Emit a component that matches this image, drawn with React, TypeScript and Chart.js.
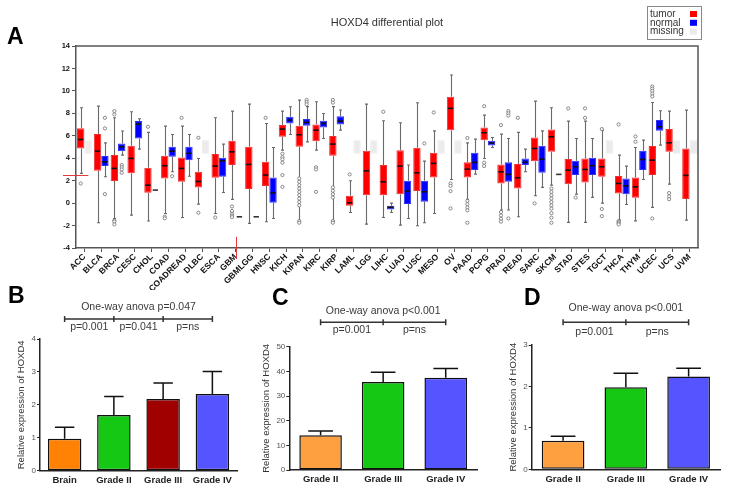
import React, { useEffect, useRef } from 'react';
import { Chart, registerables } from 'chart.js';

Chart.register(...registerables);

const SANS = "'Liberation Sans', Arial, Helvetica, sans-serif";

// ---------------- Panel A data ----------------
const categories = ['ACC','BLCA','BRCA','CESC','CHOL','COAD','COADREAD','DLBC','ESCA','GBM','GBMLGG','HNSC','KICH','KIPAN','KIRC','KIRP','LAML','LGG','LIHC','LUAD','LUSC','MESO','OV','PAAD','PCPG','PRAD','READ','SARC','SKCM','STAD','STES','TGCT','THCA','THYM','UCEC','UCS','UVM'];

// [min, q1, median, q3, max]
const tumorStats: number[][] = [
  [2.65, 4.87, 5.67, 6.66, 8.5],
  [-1.75, 2.88, 4.63, 6.15, 8.64],
  [-1.37, 1.96, 3.09, 4.28, 7.6],
  [-1.07, 2.65, 3.98, 5.11, 8.14],
  [-1.6, 0.92, 1.6, 3.15, 6.3],
  [-0.92, 2.2, 3.33, 4.22, 6.86],
  [-1.28, 1.9, 3.09, 4.07, 6.86],
  [-0.09, 1.4, 1.93, 2.79, 3.98],
  [-0.92, 2.26, 3.3, 4.37, 7.6],
  [0.33, 3.39, 4.57, 5.55, 8.2],
  [-1.81, 1.25, 3.45, 5.02, 8.82],
  [-1.66, 1.52, 2.5, 3.68, 7.1],
  [4.72, 5.91, 6.6, 6.95, 8.2],
  [-1.6, 5.02, 6.09, 6.89, 9.18],
  [4.72, 5.52, 6.5, 7.01, 9.03],
  [-1.6, 4.22, 5.26, 5.97, 8.6],
  [-0.83, -0.24, 0.03, 0.65, 1.99],
  [-1.87, 0.71, 2.88, 4.66, 8.82],
  [-1.28, 0.71, 1.9, 3.39, 7.34],
  [-1.96, 0.8, 3.3, 4.72, 7.16],
  [-2.02, 1.07, 2.7, 4.93, 8.94],
  [-0.92, 2.29, 3.54, 4.48, 6.44],
  [2.11, 6.5, 8.44, 9.47, 11.41],
  [0.33, 2.29, 3.03, 3.63, 5.37],
  [3.98, 5.61, 6.27, 6.74, 7.84],
  [-0.62, 1.75, 2.79, 3.45, 6.15],
  [-1.22, 1.31, 2.26, 3.48, 6.3],
  [0.65, 3.74, 4.87, 5.85, 9.09],
  [1.6, 4.57, 5.91, 6.57, 8.5],
  [-1.72, 1.69, 2.94, 3.92, 7.31],
  [-1.72, 1.84, 3.0, 3.98, 7.31],
  [0.0, 2.35, 3.24, 3.98, 6.5],
  [-1.52, 0.86, 1.75, 2.41, 4.28],
  [-1.58, 0.47, 1.45, 2.29, 4.96],
  [-0.38, 2.5, 3.83, 5.08, 8.97],
  [1.69, 4.57, 5.37, 6.6, 8.2],
  [-1.52, 0.36, 2.47, 4.87, 8.29],
];

const tumorOutliers: number[][] = [
  [1.75], [], [7.9, 8.2, -1.55, -1.65, -1.9], [], [6.8], [-1.2, -1.35], [7.6], [5.82, -0.86], [-1.28],
  [-0.3, -0.7, -0.95, -1.1, -1.25], [], [7.6], [4.4, 4.1, 3.9, 3.6, 2.5, 1.45],
  [2.2, 1.9, 1.6, 1.3, 1.0, 0.7, 0.4, 0.1, -0.2, -1.6, -1.75], [3.2, 3.0, 1.0],
  [9.2, 8.95, 1.4, 1.1, 0.8, 0.5, -1.6, -1.75], [2.56], [], [8.14], [], [], [8.08],
  [1.75, 1.54, 1.07, -0.47], [5.8, 0.2, -0.1, -0.4, -0.65, -1.75], [8.64, 3.6, 3.3],
  [6.95, -0.8, -1.1, -1.4, -1.65], [7.6], [-0.03], [1.3, 1.0, 0.7, 0.4, 0.1, -0.2, -0.5, -0.9, -1.3, -1.75],
  [8.44], [8.44, 7.6], [6.6, -0.53, -1.16], [7.01, -1.6, -1.7, -1.8, -1.9], [5.94, 5.47],
  [10.4, 10.2, 10.0, 9.75, 9.5, -1.37], [0.9, 0.6, 0.35], [],
];

// null = missing normal samples
const normalStats: (number[] | null)[] = [
  null,
  [2.35, 3.3, 3.68, 4.19, 5.37],
  [4.28, 4.63, 5.02, 5.32, 6.42],
  [4.81, 5.76, 7.04, 7.31, 7.52],
  [1.16, 1.16, 1.16, 1.16, 1.16],
  [2.79, 4.13, 4.63, 5.02, 6.12],
  [2.4, 3.83, 4.43, 5.02, 6.12],
  null,
  [0.95, 2.35, 3.77, 4.04, 5.26],
  [-1.22, -1.22, -1.22, -1.22, -1.22],
  [-1.22, -1.22, -1.22, -1.22, -1.22],
  [-1.37, 0.03, 0.92, 2.29, 4.96],
  [6.12, 7.1, 7.4, 7.69, 8.58],
  [5.46, 6.89, 7.19, 7.49, 8.6],
  [5.76, 6.74, 7.1, 7.34, 7.99],
  [6.5, 7.01, 7.31, 7.75, 8.3],
  null,
  null,
  [-0.83, -0.56, -0.38, -0.24, 0.0],
  [-1.37, -0.09, 1.07, 1.99, 3.39],
  [-1.75, 0.12, 1.01, 1.99, 3.74],
  null,
  null,
  [2.58, 2.94, 3.63, 4.48, 5.7],
  [4.96, 5.14, 5.35, 5.55, 5.85],
  [-0.62, 1.9, 2.56, 3.63, 5.76],
  [2.79, 3.39, 3.65, 3.98, 4.81],
  [1.4, 2.7, 3.92, 5.11, 6.44],
  [2.56, 2.56, 2.56, 2.56, 2.56],
  [0.8, 2.5, 3.24, 3.77, 5.76],
  [0.51, 2.5, 3.33, 4.04, 5.76],
  null,
  [-0.12, 0.8, 1.54, 2.2, 3.3],
  [2.11, 2.94, 3.89, 4.66, 5.61],
  [5.17, 6.44, 6.8, 7.4, 8.23],
  null,
  null,
];

const normalOutliers: number[][] = [
  [], [0.8, 6.66, 7.6], [3.4, 3.2, 3.0, 2.7], [], [], [2.4], [], [], [], [], [], [], [],
  [9.2, 9.0, 8.8], [], [], [], [], [], [], [5.32], [], [], [], [], [8.2, 8.0, 7.8, -1.37],
  [], [], [], [0.5], [], [], [], [], [], [], [],
];

const missingRange = [4.4, 5.6];
const yTicksA = { min: -4, max: 14, step: 2 };
const redMarkValue = 2.5;
const redMarkCategory = 'GBM';

// ---------------- Panels B, C, D data ----------------
const bLabels = ['Brain', 'Grade II', 'Grade III', 'Grade IV'];
const bMeans = [0.97, 1.69, 2.18, 2.33];
const bErrors = [0.35, 0.56, 0.48, 0.68];
const bColors = ['#ff8205', '#14c814', '#a00000', '#5555ff'];
const bPValues = ['p=0.001', 'p=0.041', 'p=ns'];

const cLabels = ['Grade II', 'Grade III', 'Grade IV'];
const cMeans = [14.1, 35.7, 37.4];
const cErrors = [1.7, 3.9, 3.8];
const cColors = ['#ffa040', '#14c814', '#5555ff'];
const cPValues = ['p=0.001', 'p=ns'];

const dLabels = ['Grade II', 'Grade III', 'Grade IV'];
const dMeans = [0.69, 1.98, 2.24];
const dErrors = [0.11, 0.34, 0.2];
const dColors = ['#ffa040', '#14c814', '#5555ff'];
const dPValues = ['p=0.001', 'p=ns'];

function BoxPanel() {
  const ref = useRef<HTMLCanvasElement>(null);
  useEffect(() => {
    const canvas = ref.current;
    if (!canvas) return;
    const tumorBars = tumorStats.map((s) => [s[1], s[3]]);
    const normalBars = normalStats.map((s) => (s ? [s[1], s[3]] : missingRange));
    const normalFill = normalStats.map((s) => (s ? '#0000ff' : '#ebebeb'));
    const normalBorder = normalStats.map((s) => (s ? '#3030f0' : '#ebebeb'));

    const drawWhiskers = (chart: any, dsIndex: number, stats: (number[] | null)[]) => {
      const ctx = chart.ctx;
      const ys = chart.scales.y;
      const meta = chart.getDatasetMeta(dsIndex);
      ctx.save();
      ctx.strokeStyle = '#6a6a6a';
      ctx.lineWidth = 1.1;
      meta.data.forEach((el: any, i: number) => {
        const s = stats[i];
        if (!s || s[0] === s[4]) return;
        const x = Math.round(el.x) + 0.5;
        const pMin = ys.getPixelForValue(s[0]);
        const pMax = ys.getPixelForValue(s[4]);
        const pQ1 = ys.getPixelForValue(s[1]);
        const pQ3 = ys.getPixelForValue(s[3]);
        ctx.beginPath();
        ctx.moveTo(x, pMax); ctx.lineTo(x, pQ3);
        ctx.moveTo(x, pQ1); ctx.lineTo(x, pMin);
        ctx.moveTo(x - 1.5, pMax); ctx.lineTo(x + 1.5, pMax);
        ctx.moveTo(x - 1.5, pMin); ctx.lineTo(x + 1.5, pMin);
        ctx.stroke();
      });
      ctx.restore();
    };

    const drawMedians = (chart: any, dsIndex: number, stats: (number[] | null)[], outs: number[][]) => {
      const ctx = chart.ctx;
      const ys = chart.scales.y;
      const meta = chart.getDatasetMeta(dsIndex);
      ctx.save();
      meta.data.forEach((el: any, i: number) => {
        const s = stats[i];
        if (!s) return;
        const half = el.width / 2 - 1;
        const pm = ys.getPixelForValue(s[2]);
        ctx.strokeStyle = s[1] === s[3] ? '#333' : '#111';
        ctx.lineWidth = 1.6;
        ctx.beginPath();
        ctx.moveTo(el.x - half, pm); ctx.lineTo(el.x + half, pm);
        ctx.stroke();
        ctx.strokeStyle = '#707070';
        ctx.lineWidth = 0.8;
        (outs[i] || []).forEach((v) => {
          ctx.beginPath();
          ctx.arc(el.x, ys.getPixelForValue(v), 1.6, 0, Math.PI * 2);
          ctx.fillStyle = '#fff';
          ctx.fill();
          ctx.stroke();
        });
      });
      ctx.restore();
    };

    const boxPlugin = {
      id: 'boxplotA',
      beforeDatasetsDraw(chart: any) {
        drawWhiskers(chart, 0, tumorStats);
        drawWhiskers(chart, 1, normalStats);
      },
      afterDatasetsDraw(chart: any) {
        drawMedians(chart, 0, tumorStats, tumorOutliers);
        drawMedians(chart, 1, normalStats, normalOutliers);
      },
      afterDraw(chart: any) {
        const ctx = chart.ctx;
        const a = chart.chartArea;
        const xs = chart.scales.x;
        const ys = chart.scales.y;
        ctx.save();
        ctx.strokeStyle = '#555';
        ctx.lineWidth = 1.5;
        ctx.beginPath();
        ctx.moveTo(a.left, a.top); ctx.lineTo(a.right, a.top); ctx.lineTo(a.right, a.bottom);
        ctx.stroke();
        ctx.strokeStyle = '#e23a3a';
        ctx.lineWidth = 1;
        const ry = Math.round(ys.getPixelForValue(redMarkValue)) + 0.5;
        ctx.beginPath();
        ctx.moveTo(a.left - 13, ry); ctx.lineTo(xs.getPixelForValue(0) + 4, ry);
        const rx = Math.round(xs.getPixelForValue(categories.indexOf(redMarkCategory))) + 0.5;
        ctx.moveTo(rx, ys.getPixelForValue(-3)); ctx.lineTo(rx, a.bottom + 11);
        ctx.stroke();
        ctx.fillStyle = '#333';
        ctx.font = `11px ${SANS}`;
        ctx.textAlign = 'center';
        ctx.textBaseline = 'middle';
        ctx.fillText('HOXD4 differential plot', 387, 23);
        ctx.fillStyle = '#000';
        ctx.font = `bold 23px ${SANS}`;
        ctx.textAlign = 'left';
        ctx.textBaseline = 'alphabetic';
        ctx.fillText('A', 7, 43.5);
        ctx.strokeStyle = '#888';
        ctx.lineWidth = 1;
        ctx.fillStyle = '#fff';
        ctx.fillRect(647, 6, 54, 33);
        ctx.strokeRect(647.5, 6.5, 54, 33);
        const items = [['tumor', '#ff0000'], ['normal', '#0000ff'], ['missing', '#ebebeb']];
        ctx.font = `10px ${SANS}`;
        ctx.textBaseline = 'middle';
        items.forEach(([t, c], k) => {
          const yy = 14 + k * 8.8;
          ctx.fillStyle = '#333';
          ctx.fillText(t, 650, yy);
          ctx.fillStyle = c;
          ctx.fillRect(690, yy - 3, 7, 6);
        });
        ctx.restore();
      },
    };

    const chart = new Chart(canvas, {
      type: 'bar',
      data: {
        labels: categories,
        datasets: [
          {
            label: 'tumor',
            data: tumorBars as any,
            backgroundColor: '#ff0000',
            borderColor: '#f03030',
            borderWidth: 1,
            borderSkipped: false,
            categoryPercentage: 0.88,
            barPercentage: 1.0,
          },
          {
            label: 'normal',
            data: normalBars as any,
            backgroundColor: normalFill,
            borderColor: normalBorder,
            borderWidth: 1,
            borderSkipped: false,
            categoryPercentage: 0.88,
            barPercentage: 1.0,
          },
        ],
      },
      options: {
        responsive: false,
        animation: false,
        layout: { padding: { left: 0, top: 46, right: 31, bottom: 0 } },
        plugins: { legend: { display: false }, tooltip: { enabled: false }, title: { display: false } },
        scales: {
          x: {
            ticks: {
              autoSkip: false,
              minRotation: 45,
              maxRotation: 45,
              padding: 0,
              color: '#111',
              font: { family: SANS, size: 8.5, weight: 'bold' },
            },
            grid: { offset: false, drawOnChartArea: false, drawTicks: true, tickLength: 4, color: '#555' },
            border: { display: true, color: '#555', width: 1.5 },
            afterFit: (s: any) => { s.height = 42; },
          },
          y: {
            min: yTicksA.min,
            max: yTicksA.max,
            ticks: {
              stepSize: yTicksA.step,
              padding: 2,
              color: '#111',
              font: { family: SANS, size: 7.5, weight: 'bold' },
            },
            grid: { drawOnChartArea: false, drawTicks: true, tickLength: 4, color: '#555' },
            border: { display: true, color: '#555', width: 1.5 },
            afterFit: (s: any) => { s.width = 76; },
          },
        },
      } as any,
      plugins: [boxPlugin],
    });
    return () => chart.destroy();
  }, []);
  return (
    <canvas ref={ref} width={729} height={290} style={{ position: 'absolute', left: 0, top: 0, width: 729, height: 290 }} />
  );
}

type BarPanelProps = {
  left: number; top: number; width: number; height: number;
  area: { l: number; r: number; t: number; b: number };
  titlePad: number;
  labels: string[]; means: number[]; errors: number[]; colors: string[];
  yMax: number; yStep: number;
  letter: string; letterX: number; letterY: number;
  anova: string; anovaY: number; bracketY: number; pY: number; pLabels: string[];
};

function BarPanel(p: BarPanelProps) {
  const ref = useRef<HTMLCanvasElement>(null);
  useEffect(() => {
    const canvas = ref.current;
    if (!canvas) return;
    const annot = {
      id: 'annot',
      afterDatasetsDraw(chart: any) {
        const ctx = chart.ctx;
        const ys = chart.scales.y;
        const meta = chart.getDatasetMeta(0);
        ctx.save();
        ctx.strokeStyle = '#111';
        ctx.lineWidth = 1.5;
        meta.data.forEach((el: any, i: number) => {
          const top = ys.getPixelForValue(p.means[i] + p.errors[i]);
          const half = el.width * 0.29;
          ctx.beginPath();
          ctx.moveTo(el.x, el.y);
          ctx.lineTo(el.x, top);
          ctx.moveTo(el.x - half, top);
          ctx.lineTo(el.x + half, top);
          ctx.stroke();
        });
        ctx.restore();
      },
      afterDraw(chart: any) {
        const ctx = chart.ctx;
        const xs = chart.scales.x;
        const centers = p.labels.map((_, i) => xs.getPixelForValue(i));
        ctx.save();
        ctx.fillStyle = '#000';
        ctx.font = `bold 23px ${SANS}`;
        ctx.textAlign = 'left';
        ctx.textBaseline = 'alphabetic';
        ctx.fillText(p.letter, p.letterX, p.letterY);
        ctx.fillStyle = '#3a3a3a';
        ctx.font = `10.5px ${SANS}`;
        ctx.textAlign = 'center';
        ctx.textBaseline = 'middle';
        const first = centers[0];
        const last = centers[centers.length - 1];
        ctx.fillText(p.anova, (first + last) / 2, p.anovaY);
        ctx.strokeStyle = '#333';
        ctx.lineWidth = 1.5;
        ctx.beginPath();
        ctx.moveTo(first, p.bracketY);
        ctx.lineTo(last, p.bracketY);
        centers.forEach((c) => {
          ctx.moveTo(c, p.bracketY - 3);
          ctx.lineTo(c, p.bracketY + 3);
        });
        ctx.stroke();
        p.pLabels.forEach((t, i) => {
          ctx.fillText(t, (centers[i] + centers[i + 1]) / 2, p.pY);
        });
        ctx.restore();
      },
    };
    const chart = new Chart(canvas, {
      type: 'bar',
      data: {
        labels: p.labels,
        datasets: [
          {
            data: p.means,
            backgroundColor: p.colors,
            borderColor: '#111',
            borderWidth: 1.5,
            borderSkipped: false,
            categoryPercentage: 1.0,
            barPercentage: 0.68,
          },
        ],
      },
      options: {
        responsive: false,
        animation: false,
        layout: { padding: { left: 0, top: p.area.t, right: p.width - p.area.r, bottom: 0 } },
        plugins: { legend: { display: false }, tooltip: { enabled: false } },
        scales: {
          x: {
            ticks: { color: '#222', padding: 4, font: { family: SANS, size: 9.5, weight: 'bold' } },
            grid: { display: false, drawTicks: false, tickLength: 0 },
            border: { display: true, color: '#222', width: 1.5 },
            afterFit: (s: any) => { s.height = p.height - p.area.b; },
          },
          y: {
            min: 0,
            max: p.yMax,
            ticks: { stepSize: p.yStep, color: '#555', padding: 1, font: { family: SANS, size: 8 } },
            grid: { drawOnChartArea: false, drawTicks: true, tickLength: 3, color: '#222' },
            border: { display: true, color: '#222', width: 1.5 },
            title: {
              display: true,
              text: 'Relative expression of HOXD4',
              color: '#333',
              font: { family: SANS, size: 9.5 },
              padding: { top: p.titlePad, bottom: 0 },
            },
            afterFit: (s: any) => { s.width = p.area.l; },
          },
        },
      } as any,
      plugins: [annot],
    });
    return () => chart.destroy();
  }, []);
  return (
    <canvas
      ref={ref}
      width={p.width}
      height={p.height}
      style={{ position: 'absolute', left: p.left, top: p.top, width: p.width, height: p.height }}
    />
  );
}

export default function App() {
  return (
    <div style={{ position: 'absolute', left: 0, top: 0, width: 729, height: 491, background: '#fff', overflow: 'hidden' }}>
      <BoxPanel />
      <BarPanel
        left={0} top={280} width={240} height={211}
        area={{ l: 40, r: 237, t: 59, b: 190.7 }} titlePad={16}
        labels={bLabels} means={bMeans} errors={bErrors} colors={bColors}
        yMax={4} yStep={1}
        letter="B" letterX={8} letterY={23}
        anova="One-way anova p=0.047" anovaY={27} bracketY={39} pY={47} pLabels={bPValues}
      />
      <BarPanel
        left={240} top={280} width={245} height={211}
        area={{ l: 49.3, r: 237, t: 66.7, b: 190 }} titlePad={21}
        labels={cLabels} means={cMeans} errors={cErrors} colors={cColors}
        yMax={50} yStep={10}
        letter="C" letterX={32} letterY={25}
        anova="One-way anova p<0.001" anovaY={31.5} bracketY={42.3} pY={50.5} pLabels={cPValues}
      />
      <BarPanel
        left={480} top={280} width={249} height={211}
        area={{ l: 51.7, r: 240, t: 65, b: 189.3 }} titlePad={27.5}
        labels={dLabels} means={dMeans} errors={dErrors} colors={dColors}
        yMax={3} yStep={1}
        letter="D" letterX={44} letterY={25}
        anova="One-way anova p<0.001" anovaY={28.5} bracketY={42.3} pY={52} pLabels={dPValues}
      />
    </div>
  );
}
